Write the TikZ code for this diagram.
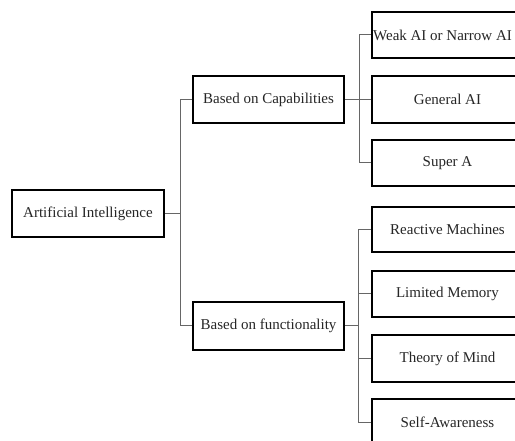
\documentclass[tikz,border=0pt]{standalone}
\usepackage{fontspec}
\setmainfont{Liberation Serif}
\begin{document}
\begin{tikzpicture}[x=1pt,y=-1pt,
  box/.style={draw=black,line width=1.6pt,minimum width=151pt,minimum height=46pt,inner sep=0pt,
    font=\fontsize{15}{18}\selectfont,text=black!85},
  link/.style={draw=black!60,line width=1pt}]
\useasboundingbox (0,0) rectangle (515,441);
\clip (0,0) rectangle (515,441);
\fill[white] (0,0) rectangle (515,441);
\node[box,minimum width=152pt,minimum height=47pt] (root) at (88,213.5) {Artificial Intelligence};
\node[box,minimum height=47pt] (cap) at (268.5,99.5) {Based on Capabilities};
\node[box,minimum height=48pt] (fun) at (268.5,326) {Based on functionality};
\node[box] (c1) at (447.5,35) {\hspace*{-10pt}Weak AI or Narrow AI};
\node[box,minimum height=47pt] (c2) at (447.5,99.5) {General AI};
\node[box] (c3) at (447.5,163) {Super A};
\node[box,minimum height=45pt] (f1) at (447.5,229.5) {Reactive Machines};
\node[box] (f2) at (447.5,294) {Limited Memory};
\node[box,minimum height=47pt] (f3) at (447.5,358.5) {Theory of Mind};
\node[box] (f4) at (447.5,422) {Self-Awareness};
\coordinate (s1) at (180,213.5);
\coordinate (s2) at (359,99.5);
\coordinate (s3) at (358,326);
\draw[link] (root.east) -- (s1);
\draw[link] (cap.west) -| (s1);
\draw[link] (fun.west) -| (s1);
\draw[link] (cap.east) -- (s2);
\draw[link] (c1.west) -| (s2);
\draw[link] (c2.west) -- (s2);
\draw[link] (c3.west) -| (s2);
\draw[link] (fun.east) -- (s3);
\draw[link] (f1.west) -| (s3);
\draw[link] (f2.west) -| (s3);
\draw[link] (f3.west) -| (s3);
\draw[link] (f4.west) -| (s3);
\end{tikzpicture}
\end{document}
